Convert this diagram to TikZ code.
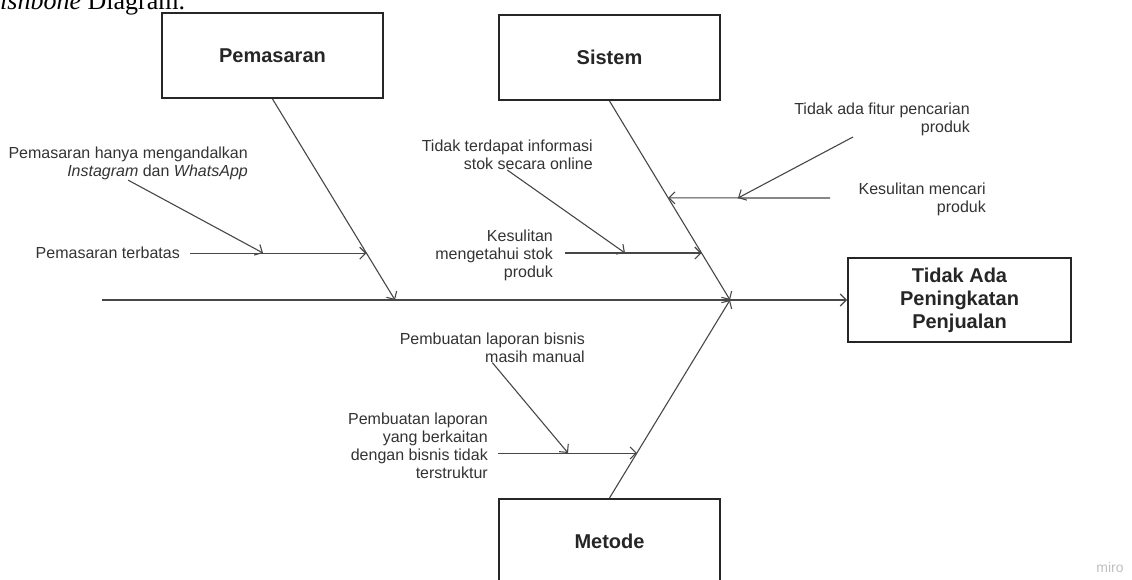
\documentclass[tikz,border=0pt]{standalone}
\usepackage{fontspec}
\setmainfont{Liberation Sans}
\newfontfamily\serifft{Liberation Serif}
\usetikzlibrary{arrows.meta,calc}
\begin{document}
\begin{tikzpicture}[x=1pt,y=-1pt,
  bone/.style={draw=black!72, line width=1.1pt, -{Straight Barb[length=6pt,width=12pt,line width=1.1pt]}},
  catbox/.style={draw=black!85, line width=2pt, minimum width=221pt, minimum height=85pt,
    font=\fontsize{20}{23}\selectfont\bfseries, text=black!85, align=center, fill=white},
  lbl/.style={font=\fontsize{16}{18}\selectfont, text=black!80, align=right, inner sep=0pt},
]
\useasboundingbox (0,0) rectangle (1132,580);

% title (cropped caption)
\node[anchor=base west, inner sep=0pt, font=\serifft\fontsize{26}{30}\selectfont] (title) at (0,10) {\textit{ishbone} Diagram.};

% boxes
\node[catbox] (pem) at (272.5,55.5) {Pemasaran};
\node[catbox] (sis) at (609.5,57.5) {Sistem};
\node[catbox] (met) at (609.5,541.5) {Metode};
\node[catbox, minimum width=223pt, minimum height=84pt] (eff) at (959.5,300) {Tidak Ada\\Peningkatan\\Penjualan};

% spine
\coordinate (tail) at (102,300);
\coordinate (head) at (730,300);
\coordinate (p1) at (395,300);
\draw[bone] (tail) -- (eff.west);
\draw[bone] (pem.south) -- (p1);
\draw[bone] (sis.south) -- (head);
\draw[bone] (met.north) -- (head);

% points on main bones
\coordinate (b12) at ($(pem.south)!0.767!(p1)$);
\coordinate (b22) at ($(sis.south)!0.764!(head)$);
\coordinate (b21) at ($(sis.south)!0.487!(head)$);
\coordinate (b32) at ($(met.north)!0.227!(head)$);

% labels
\node[lbl, anchor=east] (l11) at (248,163.5) {Pemasaran hanya mengandalkan\\\textit{Instagram} dan \textit{WhatsApp}};
\node[lbl, anchor=east] (l12) at (180,253) {Pemasaran terbatas};
\node[lbl, anchor=east] (l21) at (593,155) {Tidak terdapat informasi\\stok secara online};
\node[lbl, anchor=east] (l22) at (553,255.5) {Kesulitan\\mengetahui stok\\produk};
\node[lbl, anchor=east] (l23) at (970,119) {Tidak ada fitur pencarian\\produk};
\node[lbl, anchor=east] (l24) at (986,199) {Kesulitan mencari\\produk};
\node[lbl, anchor=east] (l31) at (585,347.5) {Pembuatan laporan bisnis\\masih manual};
\node[lbl, anchor=east] (l32) at (488,445.5) {Pembuatan laporan\\yang berkaitan\\dengan bisnis tidak\\terstruktur};

% sub bones
\draw[bone, shorten <=10pt] (l12.east |- b12) -- (b12);
\draw[bone, shorten <=12pt] (l22.east |- b22) -- (b22);
\coordinate (k1) at (830,198);
\draw[bone] (k1) -- (b21);
\draw[bone, shorten <=10pt] (l32.east |- b32) -- (b32);

% sub-sub bones
\coordinate (s11) at (263,253);
\coordinate (s22) at (625,253);
\coordinate (s21) at (738,198);
\coordinate (t1) at (853,137);
\coordinate (s32) at (568,453);
\draw[bone] (l11.south) -- (s11);
\draw[bone] (l21.south) -- (s22);
\draw[bone] (t1) -- (s21);
\draw[bone] (l31.south) -- (s32);

% watermark
\node[font=\fontsize{14}{16}\selectfont, text=black!25, inner sep=0pt] (miro) at (1110,567) {miro};
\end{tikzpicture}
\end{document}
